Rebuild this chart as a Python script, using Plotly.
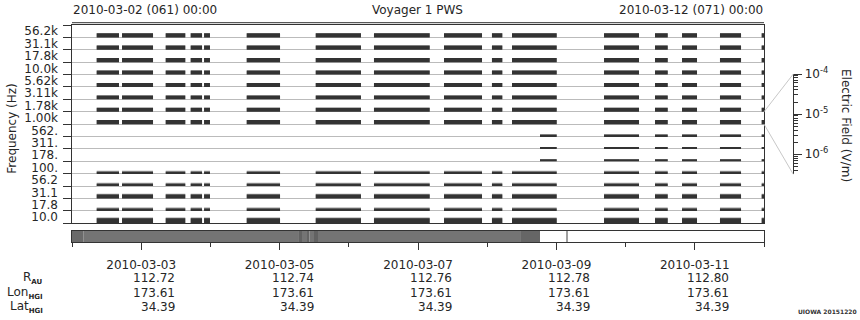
import plotly.graph_objects as go
import pandas as pd

# ---------------- data ----------------
channels = ["56.2k", "31.1k", "17.8k", "10.0k", "5.62k", "3.11k", "1.78k", "1.00k",
            "562.", "311.", "178.", "100.", "56.2", "31.1", "17.8", "10.0"]

# time segments with data
seg_start = ["2010-03-02 08:34", "2010-03-02 17:21", "2010-03-03 08:30", "2010-03-03 17:10",
             "2010-03-03 21:48", "2010-03-04 12:36", "2010-03-05 12:32", "2010-03-06 08:44",
             "2010-03-07 09:01", "2010-03-08 01:39", "2010-03-08 08:36", "2010-03-09 16:31",
             "2010-03-10 10:12", "2010-03-10 19:34", "2010-03-11 08:44", "2010-03-11 23:12"]
seg_end = ["2010-03-02 16:18", "2010-03-03 04:06", "2010-03-03 15:17", "2010-03-03 21:06",
           "2010-03-03 23:51", "2010-03-05 00:09", "2010-03-06 04:13", "2010-03-07 04:03",
           "2010-03-07 22:12", "2010-03-08 05:14", "2010-03-09 00:06", "2010-03-10 04:39",
           "2010-03-10 14:36", "2010-03-11 00:46", "2010-03-11 16:02", "2010-03-12 00:00"]

# first time each channel has data
chan_from = ["2010-03-02 00:00"] * 8 + ["2010-03-08 18:19"] * 3 + ["2010-03-02 00:00"] * 5

# typical level (log10 V/m) per channel, and upper noise level
level_core = [-5.68, -5.66, -5.68, -5.68, -5.68, -5.72, -5.68, -5.66,
              -6.10, -6.10, -6.06, -6.10, -6.02, -5.70, -6.02, -5.50]
level_peak = [-5.68, -5.66, -5.68, -5.68, -5.68, -5.72, -5.68, -5.66,
              -6.10, -6.10, -6.06, -5.92, -5.80, -5.56, -5.80, -5.34]

# colour-scale axis range (log10 V/m)
cb_range = [-6.5, -4.0]
cb_chan = "1.00k"

# coverage strip
strip_start = ["2010-03-02 00:00", "2010-03-02 03:55", "2010-03-05 06:43", "2010-03-05 07:46",
               "2010-03-05 09:50", "2010-03-05 10:19", "2010-03-05 11:56", "2010-03-05 13:19",
               "2010-03-08 11:43", "2010-03-09 03:25"]
strip_end = ["2010-03-02 03:55", "2010-03-05 06:43", "2010-03-05 07:46", "2010-03-05 09:50",
             "2010-03-05 10:19", "2010-03-05 11:56", "2010-03-05 13:19", "2010-03-08 11:43",
             "2010-03-08 18:19", "2010-03-09 03:45"]
strip_color = ["#6a6a6a", "#747474", "#626262", "#747474", "#646464", "#747474",
               "#626262", "#747474", "#666666", "#a0a0a0"]

# ephemeris
eph_dates = ["2010-03-03", "2010-03-05", "2010-03-07", "2010-03-09", "2010-03-11"]
r_au = ["112.72", "112.74", "112.76", "112.78", "112.80"]
lon_hgi = ["173.61", "173.61", "173.61", "173.61", "173.61"]
lat_hgi = ["34.39", "34.39", "34.39", "34.39", "34.39"]

t0, t1 = "2010-03-02 00:00", "2010-03-12 00:00"

# ---------------- layout geometry ----------------
W, H = 860, 320
ML, MR, MT, MB = 72, 10, 25, 78
PW, PH = W - ML - MR, H - MT - MB
main_xdom = [0, 692 / PW]
main_ydom = [(PH - 198.3) / PH, 1]
strip_ydom = [0, 11 / PH]
cb_x = (793.3 - ML) / PW
cb_ydom = [(H - MB - 174.3) / PH, (H - MB - 74) / PH]

def px_x(px):
    return (px - ML) / PW

def px_y(py):
    return (H - MB - py) / PH

FONT = "DejaVu Sans"
TXT = "#262626"
n = len(channels)

fig = go.Figure()

# ---------------- channel bars ----------------
def add_bars(levels, color):
    xs, ws, bs, hs = [], [], [], []
    for i, ch in enumerate(channels):
        base = n - 1 - i
        h = (levels[i] - cb_range[0]) / (cb_range[1] - cb_range[0])
        cf = pd.Timestamp(chan_from[i])
        for s, e in zip(seg_start, seg_end):
            s, e = pd.Timestamp(s), pd.Timestamp(e)
            if e <= cf:
                continue
            s = max(s, cf)
            xs.append(s + (e - s) / 2)
            ws.append((e - s).total_seconds() * 1000)
            bs.append(base)
            hs.append(h)
    fig.add_trace(go.Bar(x=xs, y=hs, base=bs, width=ws, marker=dict(color=color, line=dict(width=0)),
                         xaxis="x", yaxis="y", showlegend=False, hoverinfo="skip"))

add_bars(level_peak, "#9a9a9a")
add_bars(level_core, "#333333")

# label axis dummy
fig.add_trace(go.Scatter(x=[None], y=[None], xaxis="x", yaxis="y4", showlegend=False))

# ---------------- coverage strip ----------------
sx, sw = [], []
for s, e in zip(strip_start, strip_end):
    s, e = pd.Timestamp(s), pd.Timestamp(e)
    sx.append(s + (e - s) / 2)
    sw.append((e - s).total_seconds() * 1000)
fig.add_trace(go.Bar(x=sx, y=[1] * len(sx), base=[0] * len(sx), width=sw,
                     marker=dict(color=strip_color, line=dict(width=0)),
                     xaxis="x2", yaxis="y2", showlegend=False, hoverinfo="skip"))

# colour axis dummy
fig.add_trace(go.Scatter(x=[None], y=[None], xaxis="x3", yaxis="y3", showlegend=False))

tickfont = dict(family=FONT, size=12, color=TXT)

fig.update_layout(
    width=W, height=H, margin=dict(l=ML, r=MR, t=MT, b=MB),
    paper_bgcolor="white", plot_bgcolor="white", barmode="overlay",
    font=dict(family=FONT, size=12, color=TXT),
    xaxis=dict(domain=main_xdom, anchor="y", type="date", range=[t0, t1],
               showticklabels=False, ticks="", showgrid=False, zeroline=False,
               showline=True, mirror=True, linecolor="#333", linewidth=1),
    yaxis=dict(domain=main_ydom, anchor="x", range=[0, n], tickmode="array",
               tickvals=list(range(n + 1)), showticklabels=False, ticks="outside",
               ticklen=8, tickcolor="#333", showgrid=True, gridcolor="#bbbbbb", gridwidth=1,
               zeroline=False, showline=True, mirror=True, linecolor="#333", linewidth=1),
    yaxis4=dict(overlaying="y", anchor="x", side="left", range=[0, n], tickmode="array",
                tickvals=[n - 1 - i + 0.5 for i in range(n)], ticktext=channels,
                ticks="", showgrid=False, zeroline=False, showline=False,
                tickfont=tickfont, ticklabelstandoff=13),
    xaxis2=dict(domain=main_xdom, anchor="y2", type="date", range=[t0, t1],
                tickmode="linear", tick0="2010-03-03", dtick=2 * 86400000,
                tickformat="%Y-%m-%d", ticks="outside", ticklen=7, tickcolor="#333",
                ticklabelstandoff=5,
                minor=dict(ticks="outside", ticklen=4, tickcolor="#333",
                           tick0="2010-03-02", dtick=86400000, showgrid=False),
                showgrid=False, zeroline=False, showline=True, mirror=True,
                linecolor="#333", linewidth=1, tickfont=tickfont),
    yaxis2=dict(domain=strip_ydom, anchor="x2", range=[0, 1], showticklabels=False,
                ticks="", showgrid=False, zeroline=False, showline=True, mirror=True,
                linecolor="#333", linewidth=1),
    xaxis3=dict(domain=[cb_x - 0.01, cb_x], anchor="y3", visible=False, range=[0, 1]),
    yaxis3=dict(domain=cb_ydom, anchor="free", position=cb_x, autoshift=False, shift=0,
                side="right", type="log",
                range=cb_range, tickmode="array", tickvals=[1e-6, 1e-5, 1e-4],
                ticktext=["10<sup>-6</sup>", "10<sup>-5</sup>", "10<sup>-4</sup>"],
                ticks="outside", ticklen=8, tickcolor="#333",
                minor=dict(ticks="outside", ticklen=4, tickcolor="#333", showgrid=False,
                           tickmode="array",
                           tickvals=[k * 10.0 ** p for p in (-7, -6, -5) for k in range(2, 10)
                                     if 10 ** cb_range[0] <= k * 10.0 ** p <= 10 ** cb_range[1]]),
                showgrid=False, zeroline=False, showline=True, linecolor="#333", linewidth=1,
                tickfont=tickfont),
)

# ---------------- texts ----------------
ann = []
ann.append(dict(text="2010-03-02 (061) 00:00", x=0, y=px_y(10), xanchor="left"))
ann.append(dict(text="Voyager 1 PWS", x=px_x(417.5), y=px_y(10.5), xanchor="center"))
ann.append(dict(text="2010-03-12 (071) 00:00", x=main_xdom[1], y=px_y(10), xanchor="right"))
ann.append(dict(text="Frequency (Hz)", x=px_x(11.7), y=px_y(128), xanchor="center", textangle=-90))
ann.append(dict(text="Electric Field (V/m)", x=px_x(846), y=px_y(125), xanchor="center", textangle=90))
sub = "<span style='font-size:7px;font-weight:bold'>{}</span>"
ann.append(dict(text="R" + "<sub>" + sub.format("AU") + "</sub>", x=px_x(43.5), y=px_y(278), xanchor="right"))
ann.append(dict(text="Lon" + "<sub>" + sub.format("HGI") + "</sub>", x=px_x(43.5), y=px_y(293), xanchor="right"))
ann.append(dict(text="Lat" + "<sub>" + sub.format("HGI") + "</sub>", x=px_x(43.5), y=px_y(307), xanchor="right"))
ann.append(dict(text="<b>UIOWA 20151220</b>", x=px_x(858), y=px_y(311), xanchor="right",
                font=dict(family=FONT, size=6, color="#333")))
for a in ann:
    a.setdefault("xref", "paper")
    a.setdefault("yref", "paper")
    a.setdefault("yanchor", "middle")
    a.setdefault("showarrow", False)
    a.setdefault("borderpad", 0)
    a.setdefault("font", dict(family=FONT, size=12, color=TXT))

for d, r, lo, la in zip(eph_dates, r_au, lon_hgi, lat_hgi):
    for txt, py in ((r, 277.5), (lo, 292.5), (la, 306.5)):
        ann.append(dict(text=txt, x=d, xref="x2", y=px_y(py), yref="paper", xanchor="right",
                        xshift=35, yanchor="middle", showarrow=False, borderpad=0,
                        font=dict(family=FONT, size=12, color=TXT)))
fig.update_layout(annotations=ann)

# ---------------- shapes ----------------
ci = channels.index(cb_chan)
band_lo = main_ydom[0] + (n - 1 - ci) / n * (main_ydom[1] - main_ydom[0])
band_hi = main_ydom[0] + (n - ci) / n * (main_ydom[1] - main_ydom[0])
shapes = [
    dict(type="line", xref="paper", yref="paper", x0=main_xdom[1], x1=cb_x,
         y0=band_hi, y1=cb_ydom[1], line=dict(color="#c8c8c8", width=1)),
    dict(type="line", xref="paper", yref="paper", x0=main_xdom[1], x1=cb_x,
         y0=band_lo, y1=cb_ydom[0], line=dict(color="#c8c8c8", width=1)),
    dict(type="line", xref="paper", yref="paper", x0=main_xdom[0], x1=main_xdom[1],
         y0=1 + 2.3 / PH, y1=1 + 2.3 / PH, line=dict(color="#333", width=1)),
]
fig.update_layout(shapes=shapes)

fig.write_html("out.html")
